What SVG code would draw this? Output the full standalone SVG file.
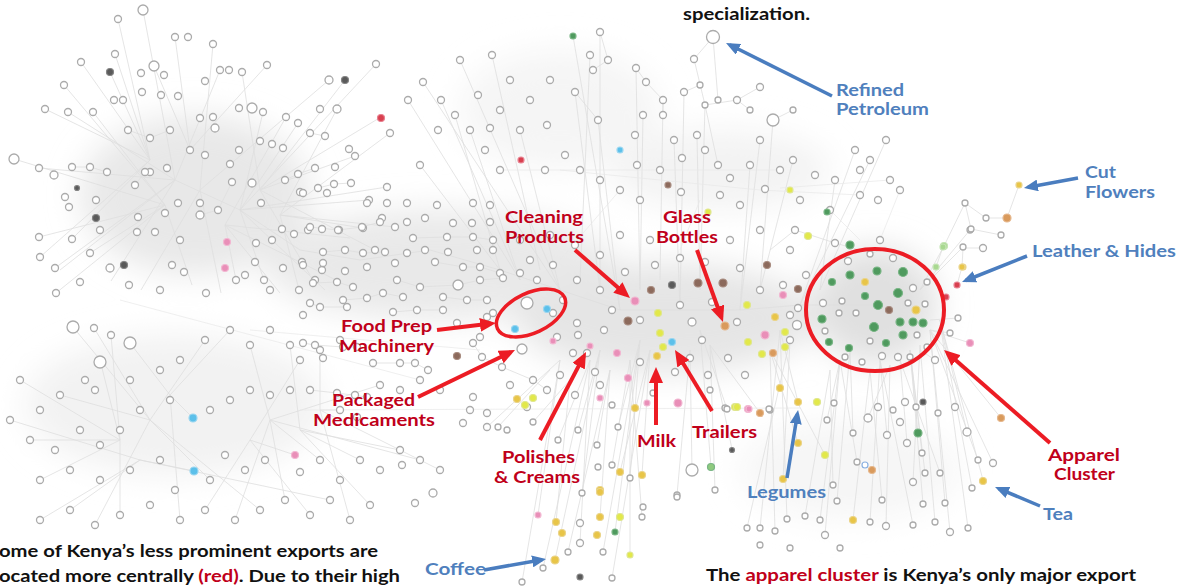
<svg xmlns="http://www.w3.org/2000/svg" width="1184" height="588" viewBox="0 0 1184 588">
<defs>
<style>
.n{fill:#fff;stroke:#ababab;stroke-width:1.3}
.gr{fill:#4f9a5e;stroke:#79b585;stroke-width:1.2}
.lg{fill:#a8d890;stroke:#c4e4b4;stroke-width:1.2}
.ye{fill:#e2e84a;stroke:#dfe690;stroke-width:1.2}
.go{fill:#e8c548;stroke:#ead48a;stroke-width:1.2}
.or{fill:#d99a5c;stroke:#e6b88e;stroke-width:1.2}
.pk{fill:#e98fb8;stroke:#f2b8d2;stroke-width:1.2}
.br{fill:#8c6a5c;stroke:#a88c80;stroke-width:1.2}
.dk{fill:#5a5a5a;stroke:#858585;stroke-width:1.2}
.bl{fill:#5cc0ea;stroke:#9ad6f0;stroke-width:1.2}
.rd{fill:#d8404f;stroke:#e88090;stroke-width:1.2}
.e{fill:none;stroke:#dedede;stroke-width:0.8}
.e2{fill:none;stroke:#e8e8e8;stroke-width:0.7}
.ra{stroke:#ec1c24;stroke-width:4;fill:none}
.ba{stroke:#4a7dbf;stroke-width:3.5;fill:none}
.rl{font-family:Lato,"Open Sans",sans-serif;font-weight:700;font-size:17px;fill:#c0001a}
.bll{font-family:Lato,"Open Sans",sans-serif;font-weight:700;font-size:17px;fill:#4f80bd}
.bt{font-family:Lato,"Open Sans",sans-serif;font-weight:700;font-size:17px;fill:#111}
</style>
<filter id="blur" x="-50%" y="-50%" width="200%" height="200%"><feGaussianBlur stdDeviation="16"/></filter>
<marker id="rh" markerUnits="userSpaceOnUse" markerWidth="16" markerHeight="14" refX="11" refY="7" orient="auto"><path d="M0,0L16,7L0,14Z" fill="#ec1c24"/></marker>
<marker id="bh" markerUnits="userSpaceOnUse" markerWidth="14" markerHeight="12" refX="10" refY="6" orient="auto"><path d="M0,0L14,6L0,12Z" fill="#4a7dbf"/></marker>
</defs>
<rect width="1184" height="588" fill="#fff"/>
<g id="haze" filter="url(#blur)">
<ellipse cx="195" cy="195" rx="115" ry="80" fill="#e8e8e8"/>
<ellipse cx="440" cy="265" rx="175" ry="55" fill="#e9e9e9"/>
<ellipse cx="665" cy="318" rx="150" ry="55" fill="#e5e5e5"/>
<ellipse cx="875" cy="305" rx="62" ry="58" fill="#e0e0e0"/>
<ellipse cx="175" cy="405" rx="150" ry="70" fill="#f2f2f2"/>
<ellipse cx="720" cy="170" rx="110" ry="40" fill="#f3f3f3"/>
<ellipse cx="560" cy="110" rx="100" ry="60" fill="#f5f5f5"/>
<ellipse cx="850" cy="470" rx="110" ry="50" fill="#f6f6f6"/>
</g>
<g id="connectors">
<path class="e" d="M175 180L143 10M150 160L118 19M190 150L175 37M200 190L213 44M150 160L81 62M165 205L64 85M150 160L45 109M165 205L14 159M175 180L39 168M165 205L39 237M175 180L55 268M165 205L56 293M150 160L40 257M190 150L267 65M200 190L329 80M150 160L115 54M190 150L154 66M175 180L220 70M150 160L110 72M165 205L93 112M175 180L68 112M150 160L72 239M165 205L90 253M175 180L111 281M200 190L141 290M165 205L192 285M200 190L221 293M128 130L150 138L170 130M72 167L90 167L107 172M135 185L145 172M200 215L218 210L232 182"/>
<path class="e" d="M240 210L376 64M260 190L381 117M280 215L390 133M240 210L387 187M280 215L395 227M260 190L375 250M225 225L336 280M240 210L325 290M225 225L280 293M280 215L299 290M260 190L345 80M240 210L298 123M225 225L286 117M260 190L242 72M240 210L263 112M280 215L337 109M260 190L355 156M240 210L369 200M280 215L363 228M225 225L350 238M260 190L310 275M240 210L264 280M225 225L236 280M310 133L325 136M285 180L298 174L315 168M318 188L334 184L351 183"/>
<path class="e" d="M150 420L73 327M120 440L20 380M140 460L10 420M120 440L40 480M140 460L40 520M150 420L95 525M170 395L180 520M150 420L260 510M140 460L330 500M170 395L130 343M120 440L100 360M150 420L60 395M170 395L193 418M140 460L194 471M150 420L210 480M120 440L120 515M140 460L70 510M170 395L230 330M150 420L205 340M120 440L111 335M150 420L94 328M120 440L30 440"/>
<path class="e" d="M270 420L380 385M300 430L400 450M250 440L300 360M270 420L250 345M320 410L340 410M300 430L360 460M250 440L310 515M270 420L285 500M320 410L350 520M300 430L370 505M270 420L420 460M320 410L440 470M250 440L295 455M270 420L320 460M300 430L290 345M320 410L320 350M250 440L205 510M270 420L235 520"/>
<path class="e" d="M60 270L175 180L240 210L300 250L360 260L430 250L500 270L560 290L620 310L680 310L740 310L800 305L875 305M310 227L338 230L362 227L380 222M323 252L345 250L363 253L385 252M413 238L447 237L473 237L493 240M435 262L463 267L480 267L500 273M313 283L337 282L353 287M397 280L420 287L458 285L480 280L503 278M343 300L367 298L383 293L403 297M443 297L467 300L487 300M310 303L320 307L347 307M393 312L417 310L443 310M303 343L315 345L343 347L357 347M373 363L400 363L415 363L428 370M473 343L482 357L502 367L533 380L547 390M310 390L337 393L367 397"/>
<path class="e" d="M620 310L573 36M600 290L600 32M640 290L636 68M580 280L590 55M600 290L575 92M620 310L598 120M660 280L663 100M640 290L643 115M560 290L520 130M540 270L492 55M560 290L460 60M520 280L441 100M560 290L423 82M520 280L408 100M500 270L455 115M520 280L470 130M500 270L420 165M680 310L684 92M700 290L705 105M680 310L674 140M700 290L697 135M740 310L760 140M760 290L773 120M740 310L750 165M760 290L793 160M800 305L855 150M820 290L886 140M800 305L870 160M820 290L835 180"/>
<path class="e" d="M713 37L694 59L705 105L737 100L760 87M705 105L718 165M713 37L718 100M737 100L750 110M600 32L608 60L593 70M636 68L646 82L663 100L663 115M575 92L598 120M684 92L700 85M773 120L793 110"/>
<path class="e" d="M700 330L711 467M690 350L692 470M710 345L715 490M690 350L677 495M710 345L732 449M700 330L727 409M710 345L760 413M640 340L618 427M630 360L612 465M650 350L620 472M640 340L630 478M650 350L642 475M600 350L582 493M610 370L600 517M590 360L580 543M600 350L555 560M590 360L543 568M610 370L568 552M600 350L578 430M590 360L558 440M610 370L597 445M560 360L538 515M570 380L556 522M560 360L522 582M570 380L533 422M550 370L498 427M560 360L487 427M640 340L603 552M630 360L630 555M650 350L612 578M640 340L615 532M630 360L642 517"/>
<path class="e" d="M780 330L798 402M770 350L798 443M790 340L783 479M780 330L787 519M770 350L775 531M790 340L747 528M780 330L760 528M770 350L825 455M840 360L827 420M850 350L853 433M840 360L857 462M830 370L833 485M850 350L837 501M840 360L825 535M830 370L805 516M840 360L820 520M880 360L887 435M870 370L882 500M880 360L870 522M890 365L886 526M880 360L913 525M870 370L853 520M890 365L868 418M910 350L918 433M900 360L907 443M910 350L922 453M920 345L913 482M910 350L925 473M900 360L940 473M910 350L923 504M920 345L935 522M930 330L1001 418M940 320L967 432M930 330L978 460M940 320L983 480M930 330L993 463M940 320L972 488M930 330L945 503M940 320L968 528M930 330L950 532"/>
<path class="e" d="M920 290L944 246L965 203L986 218L1007 218L1019 185M965 203L971 229L1001 235M963 248L983 248M957 285L962 267L963 248M936 267L943 247M920 290L970 230M920 290L963 247M930 320L958 318M930 330L950 333M930 330L970 343M920 350L935 360M860 250L835 243L795 230M880 250L870 254M770 250L795 230"/>
<path class="e2" d="M300 410L800 408M250 330L480 350M120 300L420 380M560 170L760 190M500 170L780 170M760 190L860 195M780 188L890 180M830 210L860 240M620 190L560 260M700 200L680 250M900 190L880 240"/>
</g>
<g id="nodes-left">
<circle class="n" cx="143" cy="10" r="5"/><circle class="n" cx="118" cy="19" r="3.5"/><circle class="n" cx="175" cy="37" r="3.5"/><circle class="n" cx="188" cy="37" r="3.5"/><circle class="n" cx="213" cy="44" r="3.5"/><circle class="n" cx="81" cy="62" r="3.5"/><circle class="n" cx="115" cy="54" r="3.5"/><circle class="dk" cx="110" cy="72" r="3.5"/><circle class="n" cx="154" cy="66" r="5"/><circle class="n" cx="141" cy="73" r="3.5"/><circle class="n" cx="164" cy="75" r="3.5"/><circle class="n" cx="220" cy="70" r="3.5"/><circle class="n" cx="229" cy="70" r="3.5"/><circle class="n" cx="242" cy="72" r="3.5"/><circle class="n" cx="267" cy="65" r="3.5"/><circle class="n" cx="329" cy="80" r="4"/><circle class="dk" cx="345" cy="80" r="3.5"/><circle class="n" cx="64" cy="85" r="3.5"/><circle class="n" cx="68" cy="112" r="3.5"/><circle class="n" cx="45" cy="109" r="3.5"/><circle class="n" cx="93" cy="112" r="3.5"/><circle class="n" cx="114" cy="100" r="3.5"/><circle class="n" cx="142" cy="92" r="3.5"/><circle class="n" cx="161" cy="95" r="3.5"/><circle class="n" cx="123" cy="100" r="3.5"/><circle class="n" cx="178" cy="96" r="3.5"/><circle class="n" cx="205" cy="81" r="3.5"/><circle class="n" cx="213" cy="117" r="3.5"/><circle class="n" cx="239" cy="108" r="3.5"/><circle class="n" cx="252" cy="108" r="5"/><circle class="n" cx="263" cy="112" r="3.5"/><circle class="n" cx="286" cy="117" r="3.5"/><circle class="n" cx="298" cy="123" r="3.5"/><circle class="n" cx="320" cy="109" r="3.5"/><circle class="n" cx="337" cy="109" r="4"/><circle class="n" cx="376" cy="64" r="3.5"/><circle class="rd" cx="381" cy="118" r="3.5"/><circle class="n" cx="390" cy="133" r="3.5"/><circle class="n" cx="128" cy="130" r="3.5"/><circle class="n" cx="150" cy="138" r="3.5"/><circle class="n" cx="170" cy="130" r="3.5"/><circle class="n" cx="200" cy="118" r="3.5"/><circle class="n" cx="215" cy="128" r="4"/><circle class="n" cx="239" cy="150" r="3.5"/><circle class="n" cx="260" cy="141" r="3.5"/><circle class="n" cx="272" cy="144" r="3.5"/><circle class="n" cx="283" cy="148" r="3.5"/><circle class="n" cx="310" cy="133" r="3.5"/><circle class="n" cx="325" cy="136" r="3.5"/><circle class="n" cx="349" cy="149" r="3.5"/><circle class="n" cx="355" cy="156" r="3.5"/><circle class="n" cx="14" cy="159" r="5"/><circle class="n" cx="39" cy="168" r="3.5"/><circle class="n" cx="54" cy="175" r="4"/><circle class="n" cx="72" cy="167" r="3.5"/><circle class="n" cx="90" cy="167" r="3.5"/><circle class="n" cx="107" cy="172" r="3.5"/><circle class="n" cx="150" cy="172" r="3.5"/><circle class="n" cx="167" cy="168" r="3.5"/><circle class="n" cx="205" cy="155" r="3.5"/><circle class="n" cx="190" cy="150" r="3.5"/><circle class="n" cx="230" cy="164" r="3.5"/><circle class="n" cx="252" cy="183" r="4"/><circle class="n" cx="285" cy="180" r="3.5"/><circle class="n" cx="298" cy="174" r="3.5"/><circle class="n" cx="315" cy="168" r="3.5"/><circle class="n" cx="335" cy="167" r="3.5"/><circle class="n" cx="387" cy="187" r="3.5"/><circle class="n" cx="65" cy="197" r="3.5"/><circle class="dk" cx="77" cy="188" r="2.5"/><circle class="n" cx="96" cy="200" r="3.5"/><circle class="n" cx="135" cy="185" r="3.5"/><circle class="n" cx="145" cy="172" r="3.5"/><circle class="n" cx="178" cy="203" r="3.5"/><circle class="n" cx="200" cy="203" r="3.5"/><circle class="n" cx="218" cy="210" r="3.5"/><circle class="n" cx="232" cy="182" r="3.5"/><circle class="n" cx="261" cy="203" r="3.5"/><circle class="n" cx="300" cy="192" r="3.5"/><circle class="n" cx="318" cy="188" r="3.5"/><circle class="n" cx="334" cy="184" r="3.5"/><circle class="n" cx="351" cy="183" r="3.5"/><circle class="n" cx="369" cy="200" r="3.5"/><circle class="n" cx="69" cy="207" r="3.5"/><circle class="dk" cx="96" cy="218" r="3.5"/><circle class="n" cx="138" cy="217" r="3.5"/><circle class="n" cx="165" cy="213" r="3.5"/><circle class="n" cx="200" cy="215" r="4"/><circle class="n" cx="100" cy="230" r="3.5"/><circle class="n" cx="137" cy="232" r="3.5"/><circle class="n" cx="155" cy="232" r="3.5"/><circle class="n" cx="180" cy="240" r="3.5"/><circle class="pk" cx="227" cy="242" r="3.5"/><circle class="n" cx="256" cy="243" r="3.5"/><circle class="n" cx="272" cy="240" r="3.5"/><circle class="n" cx="282" cy="229" r="3.5"/><circle class="n" cx="294" cy="234" r="3.5"/><circle class="n" cx="308" cy="230" r="3.5"/><circle class="n" cx="322" cy="229" r="3.5"/><circle class="n" cx="339" cy="230" r="3.5"/><circle class="n" cx="363" cy="228" r="3.5"/><circle class="n" cx="382" cy="218" r="3.5"/><circle class="n" cx="395" cy="227" r="3.5"/><circle class="n" cx="39" cy="237" r="3.5"/><circle class="n" cx="72" cy="239" r="3.5"/><circle class="n" cx="55" cy="268" r="3.5"/><circle class="n" cx="90" cy="253" r="3.5"/><circle class="n" cx="110" cy="268" r="4"/><circle class="dk" cx="124" cy="265" r="3.5"/><circle class="n" cx="172" cy="265" r="3.5"/><circle class="n" cx="184" cy="272" r="3.5"/><circle class="pk" cx="225" cy="268" r="3.5"/><circle class="n" cx="245" cy="275" r="3.5"/><circle class="n" cx="255" cy="262" r="3.5"/><circle class="n" cx="264" cy="280" r="3.5"/><circle class="n" cx="283" cy="268" r="3.5"/><circle class="n" cx="302" cy="262" r="3.5"/><circle class="n" cx="322" cy="270" r="3.5"/><circle class="n" cx="345" cy="271" r="3.5"/><circle class="n" cx="375" cy="250" r="3.5"/><circle class="n" cx="40" cy="257" r="3.5"/><circle class="n" cx="56" cy="293" r="3.5"/><circle class="n" cx="80" cy="282" r="3.5"/><circle class="n" cx="129" cy="285" r="3.5"/><circle class="n" cx="160" cy="290" r="3.5"/><circle class="n" cx="206" cy="293" r="3.5"/><circle class="n" cx="236" cy="280" r="3.5"/><circle class="n" cx="270" cy="290" r="3.5"/><circle class="n" cx="299" cy="290" r="3.5"/><circle class="n" cx="315" cy="280" r="3.5"/>
</g>
<g id="nodes-lower-left">
<circle class="n" cx="73" cy="327" r="6"/><circle class="n" cx="94" cy="328" r="3.5"/><circle class="n" cx="130" cy="343" r="6"/><circle class="n" cx="111" cy="335" r="3.5"/><circle class="n" cx="100" cy="362" r="6"/><circle class="n" cx="85" cy="380" r="3.5"/><circle class="n" cx="60" cy="395" r="3.5"/><circle class="n" cx="40" cy="410" r="3.5"/><circle class="n" cx="95" cy="390" r="3.5"/><circle class="n" cx="130" cy="380" r="3.5"/><circle class="n" cx="160" cy="370" r="3.5"/><circle class="n" cx="180" cy="360" r="3.5"/><circle class="n" cx="205" cy="340" r="3.5"/><circle class="n" cx="230" cy="330" r="3.5"/><circle class="n" cx="250" cy="345" r="3.5"/><circle class="n" cx="270" cy="330" r="3.5"/><circle class="n" cx="290" cy="345" r="3.5"/><circle class="n" cx="300" cy="360" r="3.5"/><circle class="n" cx="320" cy="350" r="3.5"/><circle class="n" cx="340" cy="340" r="3.5"/><circle class="n" cx="20" cy="380" r="3.5"/><circle class="n" cx="10" cy="420" r="3.5"/><circle class="n" cx="30" cy="440" r="3.5"/><circle class="n" cx="55" cy="450" r="3.5"/><circle class="n" cx="80" cy="430" r="3.5"/><circle class="n" cx="100" cy="445" r="3.5"/><circle class="n" cx="120" cy="430" r="3.5"/><circle class="n" cx="140" cy="410" r="3.5"/><circle class="n" cx="170" cy="400" r="3.5"/><circle class="bl" cx="193" cy="418" r="4"/><circle class="n" cx="210" cy="410" r="3.5"/><circle class="n" cx="230" cy="400" r="3.5"/><circle class="n" cx="250" cy="390" r="3.5"/><circle class="n" cx="270" cy="395" r="3.5"/><circle class="n" cx="290" cy="390" r="3.5"/><circle class="n" cx="340" cy="410" r="3.5"/><circle class="n" cx="355" cy="395" r="3.5"/><circle class="n" cx="380" cy="385" r="3.5"/><circle class="n" cx="400" cy="390" r="3.5"/><circle class="n" cx="420" cy="380" r="3.5"/><circle class="n" cx="440" cy="390" r="3.5"/><circle class="n" cx="40" cy="480" r="3.5"/><circle class="n" cx="70" cy="470" r="3.5"/><circle class="n" cx="100" cy="480" r="3.5"/><circle class="n" cx="130" cy="470" r="3.5"/><circle class="n" cx="160" cy="460" r="3.5"/><circle class="bl" cx="194" cy="471" r="4"/><circle class="n" cx="175" cy="490" r="3.5"/><circle class="n" cx="210" cy="480" r="3.5"/><circle class="n" cx="225" cy="455" r="3.5"/><circle class="n" cx="245" cy="470" r="3.5"/><circle class="n" cx="265" cy="460" r="3.5"/><circle class="pk" cx="295" cy="455" r="3.5"/><circle class="n" cx="300" cy="472" r="3.5"/><circle class="n" cx="320" cy="460" r="3.5"/><circle class="n" cx="340" cy="480" r="3.5"/><circle class="n" cx="360" cy="460" r="3.5"/><circle class="n" cx="380" cy="470" r="3.5"/><circle class="n" cx="400" cy="450" r="3.5"/><circle class="n" cx="420" cy="460" r="3.5"/><circle class="n" cx="440" cy="470" r="3.5"/><circle class="n" cx="40" cy="520" r="3.5"/><circle class="n" cx="70" cy="510" r="3.5"/><circle class="n" cx="95" cy="525" r="3.5"/><circle class="n" cx="120" cy="515" r="3.5"/><circle class="n" cx="150" cy="505" r="3.5"/><circle class="n" cx="180" cy="520" r="3.5"/><circle class="n" cx="205" cy="510" r="3.5"/><circle class="n" cx="235" cy="520" r="3.5"/><circle class="n" cx="260" cy="510" r="3.5"/><circle class="n" cx="285" cy="500" r="3.5"/><circle class="n" cx="310" cy="515" r="3.5"/><circle class="n" cx="330" cy="500" r="3.5"/><circle class="n" cx="350" cy="520" r="3.5"/><circle class="n" cx="370" cy="505" r="3.5"/><circle class="n" cx="433" cy="493" r="4"/><circle class="n" cx="415" cy="503" r="3.5"/><circle class="n" cx="402" cy="465" r="3.5"/>
</g>
<g id="nodes-center">
<circle class="n" cx="303" cy="193" r="3.5"/><circle class="n" cx="327" cy="193" r="3.5"/><circle class="n" cx="367" cy="203" r="3.5"/><circle class="n" cx="387" cy="203" r="3.5"/><circle class="n" cx="407" cy="203" r="3.5"/><circle class="n" cx="437" cy="205" r="3.5"/><circle class="n" cx="473" cy="203" r="3.5"/><circle class="n" cx="490" cy="205" r="3.5"/><circle class="n" cx="310" cy="227" r="3.5"/><circle class="n" cx="338" cy="230" r="3.5"/><circle class="n" cx="362" cy="227" r="3.5"/><circle class="n" cx="380" cy="222" r="3.5"/><circle class="n" cx="407" cy="222" r="3.5"/><circle class="n" cx="425" cy="218" r="3.5"/><circle class="n" cx="453" cy="223" r="3.5"/><circle class="n" cx="472" cy="223" r="3.5"/><circle class="n" cx="490" cy="222" r="3.5"/><circle class="n" cx="413" cy="238" r="3.5"/><circle class="n" cx="447" cy="237" r="3.5"/><circle class="n" cx="473" cy="237" r="3.5"/><circle class="n" cx="493" cy="240" r="3.5"/><circle class="n" cx="323" cy="252" r="3.5"/><circle class="n" cx="345" cy="250" r="3.5"/><circle class="n" cx="363" cy="253" r="3.5"/><circle class="n" cx="385" cy="252" r="3.5"/><circle class="n" cx="407" cy="253" r="3.5"/><circle class="n" cx="425" cy="250" r="3.5"/><circle class="n" cx="448" cy="252" r="3.5"/><circle class="n" cx="477" cy="250" r="3.5"/><circle class="n" cx="493" cy="250" r="3.5"/><circle class="n" cx="303" cy="265" r="3.5"/><circle class="n" cx="323" cy="263" r="3.5"/><circle class="n" cx="367" cy="267" r="3.5"/><circle class="n" cx="395" cy="263" r="3.5"/><circle class="n" cx="435" cy="262" r="3.5"/><circle class="n" cx="463" cy="267" r="3.5"/><circle class="n" cx="480" cy="267" r="3.5"/><circle class="n" cx="500" cy="273" r="3.5"/><circle class="n" cx="530" cy="260" r="3.5"/><circle class="n" cx="553" cy="265" r="3.5"/><circle class="n" cx="577" cy="280" r="3.5"/><circle class="n" cx="313" cy="283" r="3.5"/><circle class="n" cx="337" cy="282" r="3.5"/><circle class="n" cx="353" cy="287" r="3.5"/><circle class="n" cx="397" cy="280" r="3.5"/><circle class="n" cx="420" cy="287" r="3.5"/><circle class="n" cx="458" cy="285" r="5"/><circle class="n" cx="480" cy="280" r="3.5"/><circle class="n" cx="503" cy="278" r="3.5"/><circle class="n" cx="520" cy="273" r="3.5"/><circle class="n" cx="537" cy="280" r="3.5"/><circle class="n" cx="310" cy="303" r="3.5"/><circle class="n" cx="343" cy="300" r="3.5"/><circle class="n" cx="367" cy="298" r="3.5"/><circle class="n" cx="383" cy="293" r="3.5"/><circle class="n" cx="403" cy="297" r="3.5"/><circle class="n" cx="443" cy="297" r="3.5"/><circle class="n" cx="467" cy="300" r="3.5"/><circle class="n" cx="487" cy="300" r="3.5"/><circle class="n" cx="493" cy="313" r="3.5"/><circle class="n" cx="303" cy="315" r="3.5"/><circle class="n" cx="320" cy="307" r="3.5"/><circle class="n" cx="347" cy="307" r="3.5"/><circle class="n" cx="393" cy="312" r="3.5"/><circle class="n" cx="417" cy="310" r="3.5"/><circle class="n" cx="443" cy="310" r="3.5"/><circle class="n" cx="457" cy="323" r="3.5"/><circle class="n" cx="480" cy="337" r="3.5"/><circle class="n" cx="487" cy="317" r="3.5"/><circle class="n" cx="563" cy="300" r="3.5"/><circle class="n" cx="553" cy="313" r="3.5"/><circle class="n" cx="577" cy="323" r="3.5"/><circle class="n" cx="557" cy="337" r="3.5"/><circle class="pk" cx="553" cy="341" r="3"/><circle class="n" cx="578" cy="335" r="3.5"/><circle class="pk" cx="590" cy="346" r="3"/><circle class="n" cx="573" cy="353" r="3.5"/><circle class="n" cx="587" cy="353" r="3.5"/><circle class="n" cx="595" cy="372" r="3.5"/><circle class="n" cx="303" cy="343" r="3.5"/><circle class="n" cx="315" cy="345" r="3.5"/><circle class="n" cx="343" cy="347" r="3.5"/><circle class="n" cx="357" cy="347" r="3.5"/><circle class="n" cx="323" cy="358" r="3.5"/><circle class="n" cx="373" cy="363" r="3.5"/><circle class="n" cx="400" cy="363" r="3.5"/><circle class="n" cx="415" cy="363" r="3.5"/><circle class="n" cx="428" cy="370" r="3.5"/><circle class="br" cx="457" cy="356" r="3.5"/><circle class="n" cx="473" cy="343" r="3.5"/><circle class="n" cx="482" cy="357" r="3.5"/><circle class="n" cx="502" cy="367" r="3.5"/><circle class="n" cx="533" cy="380" r="3.5"/><circle class="n" cx="547" cy="390" r="3.5"/><circle class="n" cx="510" cy="385" r="3.5"/><circle class="n" cx="527" cy="407" r="3.5"/><circle class="go" cx="517" cy="399" r="3.5"/><circle class="ye" cx="525" cy="405" r="3.5"/><circle class="ye" cx="533" cy="398" r="3.5"/><circle class="n" cx="473" cy="397" r="3.5"/><circle class="n" cx="470" cy="410" r="3.5"/><circle class="n" cx="487" cy="413" r="3.5"/><circle class="n" cx="463" cy="423" r="3.5"/><circle class="n" cx="310" cy="390" r="3.5"/><circle class="n" cx="337" cy="393" r="3.5"/><circle class="n" cx="367" cy="397" r="3.5"/><circle class="n" cx="357" cy="417" r="3.5"/>
<circle class="n" cx="527" cy="303" r="6"/><circle class="bl" cx="547" cy="309" r="3.5"/><circle class="bl" cx="515" cy="329" r="3.5"/><circle class="n" cx="522" cy="349" r="5"/>
<circle class="br" cx="651" cy="290" r="3.5"/><circle class="dk" cx="672" cy="285" r="3.5"/><circle class="br" cx="698" cy="283" r="4"/><circle class="br" cx="723" cy="283" r="4"/><circle class="pk" cx="635" cy="301" r="4"/><circle class="br" cx="628" cy="321" r="4"/><circle class="ye" cx="658" cy="313" r="3.5"/><circle class="ye" cx="660" cy="333" r="3.5"/><circle class="bl" cx="672" cy="342" r="3.5"/><circle class="go" cx="657" cy="356" r="3.5"/><circle class="ye" cx="663" cy="347" r="3.5"/><circle class="or" cx="725" cy="326" r="4"/><circle class="ye" cx="747" cy="305" r="3.5"/><circle class="pk" cx="765" cy="335" r="4"/><circle class="go" cx="775" cy="317" r="3.5"/><circle class="or" cx="773" cy="353" r="3.5"/><circle class="ye" cx="748" cy="342" r="3.5"/><circle class="pk" cx="617" cy="353" r="3.5"/><circle class="pk" cx="628" cy="378" r="3.5"/><circle class="ye" cx="762" cy="354" r="3.5"/>
<circle class="n" cx="600" cy="290" r="3.5"/><circle class="n" cx="612" cy="310" r="3.5"/><circle class="n" cx="604" cy="330" r="3.5"/><circle class="n" cx="640" cy="320" r="3.5"/><circle class="n" cx="680" cy="305" r="3.5"/><circle class="n" cx="692" cy="322" r="4"/><circle class="n" cx="702" cy="340" r="3.5"/><circle class="n" cx="690" cy="358" r="3.5"/><circle class="n" cx="712" cy="302" r="3.5"/><circle class="n" cx="737" cy="322" r="3.5"/><circle class="n" cx="728" cy="358" r="3.5"/><circle class="n" cx="640" cy="362" r="3.5"/><circle class="n" cx="675" cy="372" r="3.5"/><circle class="n" cx="708" cy="375" r="3.5"/><circle class="n" cx="745" cy="375" r="3.5"/><circle class="n" cx="790" cy="340" r="3.5"/><circle class="n" cx="790" cy="315" r="3.5"/><circle class="n" cx="783" cy="285" r="3.5"/><circle class="n" cx="760" cy="290" r="3.5"/><circle class="n" cx="740" cy="268" r="3.5"/><circle class="br" cx="767" cy="265" r="3.5"/><circle class="n" cx="705" cy="262" r="3.5"/><circle class="n" cx="680" cy="258" r="3.5"/><circle class="n" cx="655" cy="265" r="3.5"/><circle class="n" cx="625" cy="272" r="3.5"/><circle class="n" cx="600" cy="255" r="3.5"/><circle class="n" cx="575" cy="245" r="3.5"/><circle class="n" cx="550" cy="235" r="3.5"/><circle class="n" cx="520" cy="240" r="3.5"/><circle class="n" cx="620" cy="235" r="3.5"/><circle class="n" cx="650" cy="240" r="3.5"/><circle class="n" cx="730" cy="240" r="3.5"/><circle class="n" cx="760" cy="230" r="3.5"/><circle class="n" cx="790" cy="250" r="3.5"/><circle class="n" cx="806" cy="275" r="3.5"/><circle class="ye" cx="808" cy="236" r="3.5"/><circle class="n" cx="600" cy="385" r="3.5"/><circle class="n" cx="575" cy="395" r="3.5"/><circle class="n" cx="560" cy="375" r="3.5"/>
</g>
<g id="nodes-top">
<circle class="gr" cx="573" cy="36" r="3"/><circle class="n" cx="600" cy="32" r="3.5"/><circle class="n" cx="590" cy="55" r="3.5"/><circle class="n" cx="608" cy="60" r="3.5"/><circle class="n" cx="575" cy="92" r="3.5"/><circle class="n" cx="598" cy="120" r="3.5"/><circle class="n" cx="593" cy="70" r="3.5"/><circle class="n" cx="636" cy="68" r="3.5"/><circle class="n" cx="646" cy="82" r="3.5"/><circle class="n" cx="663" cy="100" r="3.5"/><circle class="n" cx="663" cy="115" r="3.5"/><circle class="n" cx="684" cy="92" r="3.5"/><circle class="n" cx="700" cy="85" r="3"/><circle class="n" cx="705" cy="105" r="3"/><circle class="n" cx="737" cy="100" r="3.5"/><circle class="n" cx="718" cy="100" r="3"/><circle class="n" cx="750" cy="110" r="3"/><circle class="n" cx="760" cy="87" r="3.5"/><circle class="n" cx="773" cy="120" r="6"/><circle class="n" cx="793" cy="110" r="3"/><circle class="n" cx="713" cy="37" r="6.5"/><circle class="n" cx="694" cy="59" r="3.5"/><circle class="n" cx="643" cy="115" r="3.5"/><circle class="n" cx="635" cy="135" r="3.5"/><circle class="bl" cx="620" cy="150" r="3"/><circle class="n" cx="637" cy="165" r="3.5"/><circle class="n" cx="660" cy="170" r="3.5"/><circle class="n" cx="674" cy="140" r="3.5"/><circle class="n" cx="682" cy="158" r="3.5"/><circle class="n" cx="697" cy="135" r="3.5"/><circle class="n" cx="705" cy="150" r="3.5"/><circle class="n" cx="718" cy="165" r="3.5"/><circle class="n" cx="730" cy="178" r="3.5"/><circle class="n" cx="750" cy="165" r="3.5"/><circle class="n" cx="760" cy="140" r="3.5"/><circle class="n" cx="780" cy="170" r="3.5"/><circle class="n" cx="793" cy="160" r="3.5"/><circle class="n" cx="815" cy="175" r="3.5"/><circle class="n" cx="835" cy="180" r="3.5"/><circle class="n" cx="860" cy="170" r="3.5"/><circle class="n" cx="870" cy="160" r="3.5"/><circle class="n" cx="886" cy="140" r="3.5"/><circle class="n" cx="890" cy="180" r="3.5"/><circle class="n" cx="855" cy="150" r="3.5"/><circle class="n" cx="860" cy="195" r="3.5"/><circle class="n" cx="878" cy="200" r="3.5"/><circle class="n" cx="800" cy="200" r="3.5"/><circle class="ye" cx="790" cy="190" r="3"/><circle class="n" cx="765" cy="189" r="3.5"/><circle class="n" cx="740" cy="205" r="3.5"/><circle class="n" cx="720" cy="195" r="3.5"/><circle class="ye" cx="708" cy="212" r="3"/><circle class="br" cx="668" cy="185" r="3"/><circle class="n" cx="681" cy="192" r="3.5"/><circle class="n" cx="640" cy="200" r="3.5"/><circle class="n" cx="620" cy="190" r="3.5"/><circle class="n" cx="600" cy="180" r="3.5"/><circle class="n" cx="580" cy="170" r="3.5"/><circle class="n" cx="565" cy="155" r="3.5"/><circle class="n" cx="545" cy="170" r="3.5"/><circle class="rd" cx="521" cy="160" r="3"/><circle class="n" cx="500" cy="170" r="3.5"/><circle class="n" cx="485" cy="150" r="3.5"/><circle class="n" cx="470" cy="130" r="3.5"/><circle class="n" cx="455" cy="115" r="3.5"/><circle class="n" cx="438" cy="130" r="3.5"/><circle class="n" cx="420" cy="165" r="3.5"/><circle class="n" cx="408" cy="100" r="3.5"/><circle class="n" cx="423" cy="82" r="3.5"/><circle class="n" cx="441" cy="100" r="3.5"/><circle class="n" cx="460" cy="60" r="3.5"/><circle class="n" cx="492" cy="55" r="3.5"/><circle class="n" cx="510" cy="80" r="3.5"/><circle class="n" cx="530" cy="100" r="3.5"/><circle class="n" cx="550" cy="80" r="3.5"/><circle class="n" cx="547" cy="125" r="3.5"/><circle class="n" cx="520" cy="130" r="3.5"/><circle class="n" cx="500" cy="110" r="3.5"/><circle class="n" cx="478" cy="95" r="3.5"/><circle class="n" cx="490" cy="128" r="3.5"/><circle class="n" cx="830" cy="210" r="3.5"/><circle class="gr" cx="827" cy="212" r="3"/><circle class="n" cx="900" cy="190" r="3.5"/><circle class="n" cx="880" cy="240" r="3.5"/>
</g>
<g id="nodes-apparel">
<circle class="gr" cx="850" cy="245" r="4"/><circle class="gr" cx="832" cy="282" r="3.5"/><circle class="gr" cx="850" cy="275" r="4"/><circle class="gr" cx="877" cy="271" r="4"/><circle class="gr" cx="903" cy="272" r="4.5"/><circle class="go" cx="865" cy="282" r="3.5"/><circle class="gr" cx="865" cy="296" r="3.5"/><circle class="gr" cx="878" cy="305" r="4.5"/><circle class="gr" cx="898" cy="293" r="4.5"/><circle class="br" cx="889" cy="310" r="3.5"/><circle class="go" cx="916" cy="310" r="4"/><circle class="gr" cx="822" cy="319" r="4"/><circle class="gr" cx="874" cy="327" r="4.5"/><circle class="gr" cx="900" cy="322" r="4"/><circle class="gr" cx="913" cy="322" r="4"/><circle class="gr" cx="923" cy="323" r="4"/><circle class="gr" cx="903" cy="335" r="4"/><circle class="gr" cx="829" cy="342" r="3.5"/><circle class="gr" cx="849" cy="348" r="3.5"/><circle class="gr" cx="886" cy="343" r="3.5"/><circle class="br" cx="798" cy="289" r="3.5"/><circle class="pk" cx="783" cy="295" r="3.5"/><circle class="lg" cx="944" cy="246" r="3.5"/><circle class="lg" cx="936" cy="267" r="3"/><circle class="go" cx="963" cy="267" r="3"/><circle class="rd" cx="957" cy="285" r="3"/><circle class="rd" cx="946" cy="297" r="3"/><circle class="pk" cx="970" cy="343" r="3.5"/>
<circle class="n" cx="848" cy="261" r="3.5"/><circle class="n" cx="870" cy="254" r="3"/><circle class="n" cx="893" cy="258" r="3.5"/><circle class="n" cx="842" cy="301" r="3"/><circle class="n" cx="856" cy="313" r="3"/><circle class="n" cx="839" cy="313" r="3"/><circle class="n" cx="823" cy="303" r="3.5"/><circle class="n" cx="913" cy="288" r="3.5"/><circle class="n" cx="908" cy="303" r="3"/><circle class="n" cx="925" cy="304" r="3"/><circle class="n" cx="927" cy="282" r="3"/><circle class="n" cx="825" cy="331" r="3"/><circle class="n" cx="870" cy="341" r="3"/><circle class="n" cx="917" cy="335" r="3"/><circle class="n" cx="845" cy="357" r="3"/><circle class="n" cx="862" cy="362" r="3"/><circle class="n" cx="882" cy="356" r="3.5"/><circle class="n" cx="898" cy="357" r="3.5"/><circle class="n" cx="910" cy="357" r="3"/><circle class="n" cx="927" cy="347" r="3"/><circle class="n" cx="835" cy="243" r="3.5"/><circle class="n" cx="795" cy="230" r="3.5"/><circle class="n" cx="798" cy="308" r="3.5"/><circle class="n" cx="797" cy="325" r="4.5"/><circle class="ye" cx="785" cy="332" r="3.5"/><circle class="ye" cx="785" cy="347" r="3.5"/><circle class="n" cx="958" cy="318" r="3"/><circle class="n" cx="950" cy="333" r="3"/><circle class="n" cx="935" cy="360" r="3.5"/><circle class="n" cx="970" cy="230" r="3"/><circle class="n" cx="963" cy="247" r="3"/>
</g>
<g id="nodes-right">
<circle class="go" cx="1019" cy="185" r="3"/><circle class="or" cx="1007" cy="218" r="4"/><circle class="n" cx="965" cy="203" r="3"/><circle class="n" cx="986" cy="218" r="3"/><circle class="n" cx="971" cy="229" r="3"/><circle class="n" cx="1001" cy="235" r="3"/><circle class="n" cx="983" cy="248" r="3.5"/><circle class="lg" cx="943" cy="247" r="3"/><circle class="go" cx="962" cy="267" r="3"/>
<circle class="or" cx="1001" cy="418" r="3.5"/><circle class="n" cx="967" cy="432" r="4"/><circle class="n" cx="978" cy="460" r="3"/><circle class="n" cx="993" cy="463" r="3.5"/><circle class="go" cx="983" cy="481" r="3.5"/><circle class="n" cx="972" cy="488" r="3"/><circle class="n" cx="968" cy="528" r="3"/><circle class="n" cx="950" cy="532" r="3.5"/>
</g>
<g id="nodes-bottom">
<circle class="go" cx="798" cy="402" r="3.5"/><circle class="ye" cx="817" cy="402" r="3.5"/><circle class="pk" cx="748" cy="409" r="3.5"/><circle class="or" cx="760" cy="413" r="3.5"/><circle class="ye" cx="735" cy="407" r="3.5"/><circle class="n" cx="725" cy="408" r="3"/><circle class="n" cx="770" cy="410" r="3"/><circle class="n" cx="834" cy="403" r="3"/><circle class="n" cx="878" cy="407" r="3.5"/><circle class="n" cx="893" cy="410" r="3"/><circle class="n" cx="905" cy="402" r="3.5"/><circle class="dk" cx="923" cy="402" r="3"/><circle class="n" cx="916" cy="407" r="3"/><circle class="n" cx="938" cy="413" r="3"/><circle class="n" cx="955" cy="407" r="3.5"/><circle class="gr" cx="918" cy="433" r="4"/><circle class="go" cx="798" cy="443" r="3.5"/><circle class="n" cx="827" cy="420" r="3"/><circle class="n" cx="868" cy="418" r="4"/><circle class="n" cx="853" cy="433" r="3"/><circle class="n" cx="887" cy="435" r="3.5"/><circle class="n" cx="900" cy="422" r="3.5"/><circle class="ye" cx="825" cy="455" r="3.5"/><circle class="n" cx="907" cy="443" r="3.5"/><circle class="n" cx="922" cy="453" r="3"/><circle class="dk" cx="732" cy="450" r="2.5"/><circle class="n" cx="857" cy="462" r="3"/><circle class="bl" cx="865" cy="465" r="3" style="fill:#fff;stroke:#8ab0e0"/><circle class="or" cx="872" cy="470" r="3.5"/><circle class="n" cx="925" cy="473" r="3"/><circle class="n" cx="940" cy="473" r="3"/><circle class="n" cx="913" cy="482" r="3.5"/><circle class="go" cx="783" cy="479" r="3.5"/><circle class="n" cx="833" cy="485" r="3"/><circle class="n" cx="837" cy="501" r="3"/><circle class="n" cx="882" cy="500" r="3"/><circle class="n" cx="923" cy="504" r="3"/><circle class="n" cx="945" cy="503" r="3"/><circle class="n" cx="787" cy="519" r="3"/><circle class="n" cx="805" cy="516" r="3"/><circle class="n" cx="820" cy="520" r="3"/><circle class="go" cx="853" cy="520" r="3.5"/><circle class="n" cx="870" cy="522" r="3"/><circle class="n" cx="886" cy="526" r="3.5"/><circle class="n" cx="913" cy="525" r="3"/><circle class="n" cx="935" cy="522" r="3"/><circle class="n" cx="747" cy="528" r="3"/><circle class="n" cx="760" cy="528" r="3"/><circle class="n" cx="775" cy="531" r="3"/><circle class="n" cx="825" cy="535" r="3.5"/><circle class="n" cx="760" cy="545" r="3"/><circle class="n" cx="790" cy="548" r="3"/><circle class="n" cx="840" cy="548" r="3"/>
<circle class="pk" cx="600" cy="398" r="3"/><circle class="n" cx="612" cy="405" r="3"/><circle class="go" cx="635" cy="408" r="3.5"/><circle class="pk" cx="647" cy="403" r="3"/><circle class="n" cx="653" cy="393" r="3"/><circle class="pk" cx="678" cy="403" r="4"/><circle class="n" cx="710" cy="390" r="3"/><circle class="n" cx="727" cy="409" r="3"/><circle class="ye" cx="737" cy="407" r="3.5"/><circle class="pk" cx="749" cy="409" r="3"/><circle class="n" cx="769" cy="409" r="3"/><circle class="go" cx="780" cy="388" r="3.5"/><circle class="n" cx="487" cy="427" r="3.5"/><circle class="n" cx="498" cy="427" r="3"/><circle class="n" cx="507" cy="430" r="3"/><circle class="n" cx="533" cy="422" r="3"/><circle class="n" cx="578" cy="430" r="3"/><circle class="n" cx="618" cy="427" r="3"/><circle class="n" cx="558" cy="440" r="3"/><circle class="n" cx="597" cy="445" r="3"/><circle class="n" cx="612" cy="465" r="3"/><circle class="n" cx="598" cy="467" r="3"/><circle class="go" cx="620" cy="472" r="3.5"/><circle class="n" cx="630" cy="478" r="3"/><circle class="go" cx="642" cy="475" r="3.5"/><circle class="n" cx="692" cy="470" r="6"/><circle class="gr" cx="711" cy="467" r="3.5" style="fill:#8fca7e"/><circle class="n" cx="715" cy="490" r="3"/><circle class="n" cx="677" cy="495" r="3"/><circle class="go" cx="600" cy="490" r="3.5"/>
<circle class="n" cx="582" cy="493" r="3"/><circle class="go" cx="600" cy="492" r="3.5"/><circle class="pk" cx="538" cy="515" r="3"/><circle class="go" cx="556" cy="522" r="3.5"/><circle class="n" cx="580" cy="523" r="3.5"/><circle class="go" cx="600" cy="517" r="3.5"/><circle class="ye" cx="620" cy="517" r="3.5"/><circle class="go" cx="562" cy="533" r="3.5"/><circle class="go" cx="597" cy="535" r="3.5"/><circle class="gr" cx="615" cy="532" r="3"/><circle class="n" cx="580" cy="543" r="3.5"/><circle class="n" cx="568" cy="552" r="3"/><circle class="n" cx="603" cy="552" r="3"/><circle class="ye" cx="630" cy="555" r="3"/><circle class="go" cx="555" cy="560" r="4"/><circle class="n" cx="543" cy="568" r="3"/><circle class="dk" cx="580" cy="577" r="3"/><circle class="n" cx="612" cy="578" r="3"/><circle class="n" cx="522" cy="582" r="3"/><circle class="n" cx="642" cy="517" r="3"/><circle class="n" cx="643" cy="507" r="3"/><circle class="n" cx="677" cy="497" r="3"/>
</g>
<g id="ellipse-foodprep"><ellipse cx="531" cy="313" rx="37" ry="20" transform="rotate(-25 531 313)" fill="none" stroke="#ec1c24" stroke-width="3.5"/></g>
<g id="ellipse-apparel"><ellipse cx="875" cy="310" rx="69" ry="61" fill="none" stroke="#ec1c24" stroke-width="4"/></g>
<g id="arrows">
<line class="ra" x1="575" y1="250" x2="626.2" y2="294.7" marker-end="url(#rh)"/>
<line class="ra" x1="697" y1="250" x2="721.3" y2="317.3" marker-end="url(#rh)"/>
<line class="ra" x1="437" y1="330" x2="491" y2="323.6" marker-end="url(#rh)"/>
<line class="ra" x1="418" y1="397" x2="510.5" y2="352.2" marker-end="url(#rh)"/>
<line class="ra" x1="540" y1="440" x2="583.7" y2="356.4" marker-end="url(#rh)"/>
<line class="ra" x1="656" y1="425" x2="656" y2="372" marker-end="url(#rh)"/>
<line class="ra" x1="712" y1="411" x2="677.6" y2="354.3" marker-end="url(#rh)"/>
<line class="ra" x1="1050" y1="443" x2="947.8" y2="353.3" marker-end="url(#rh)"/>
<line class="ba" x1="832" y1="96" x2="729.6" y2="44.8" marker-end="url(#bh)"/>
<line class="ba" x1="1078" y1="178" x2="1027.9" y2="187.3" marker-end="url(#bh)"/>
<line class="ba" x1="1027" y1="256" x2="965.7" y2="280.5" marker-end="url(#bh)"/>
<line class="ba" x1="787" y1="478" x2="797.4" y2="414" marker-end="url(#bh)"/>
<line class="ba" x1="1040" y1="506" x2="998.7" y2="488.6" marker-end="url(#bh)"/>
<line class="ba" x1="484" y1="570" x2="542.1" y2="559.7" marker-end="url(#bh)"/>
</g>
<g id="labels">
<text class="rl" x="505" y="223" textLength="78" lengthAdjust="spacingAndGlyphs">Cleaning</text>
<text class="rl" x="505" y="243" textLength="79" lengthAdjust="spacingAndGlyphs">Products</text>
<text class="rl" x="663" y="223" textLength="48" lengthAdjust="spacingAndGlyphs">Glass</text>
<text class="rl" x="656" y="243" textLength="62" lengthAdjust="spacingAndGlyphs">Bottles</text>
<text class="rl" x="341" y="332" textLength="91" lengthAdjust="spacingAndGlyphs">Food Prep</text>
<text class="rl" x="339" y="352" textLength="95" lengthAdjust="spacingAndGlyphs">Machinery</text>
<text class="rl" x="332" y="406" textLength="83" lengthAdjust="spacingAndGlyphs">Packaged</text>
<text class="rl" x="313" y="426" textLength="122" lengthAdjust="spacingAndGlyphs">Medicaments</text>
<text class="rl" x="502" y="463" textLength="73" lengthAdjust="spacingAndGlyphs">Polishes</text>
<text class="rl" x="494" y="483" textLength="86" lengthAdjust="spacingAndGlyphs">&amp; Creams</text>
<text class="rl" x="637" y="447" textLength="39" lengthAdjust="spacingAndGlyphs">Milk</text>
<text class="rl" x="692" y="438" textLength="65" lengthAdjust="spacingAndGlyphs">Trailers</text>
<text class="rl" x="1048" y="461" textLength="72" lengthAdjust="spacingAndGlyphs">Apparel</text>
<text class="rl" x="1054" y="480" textLength="61" lengthAdjust="spacingAndGlyphs">Cluster</text>
<text class="bll" x="836" y="96" textLength="68" lengthAdjust="spacingAndGlyphs">Refined</text>
<text class="bll" x="836" y="115" textLength="93" lengthAdjust="spacingAndGlyphs">Petroleum</text>
<text class="bll" x="1085" y="178" textLength="31" lengthAdjust="spacingAndGlyphs">Cut</text>
<text class="bll" x="1085" y="198" textLength="70" lengthAdjust="spacingAndGlyphs">Flowers</text>
<text class="bll" x="1032" y="257" textLength="144" lengthAdjust="spacingAndGlyphs">Leather &amp; Hides</text>
<text class="bll" x="747" y="498" textLength="79" lengthAdjust="spacingAndGlyphs">Legumes</text>
<text class="bll" x="1043" y="520" textLength="30" lengthAdjust="spacingAndGlyphs">Tea</text>
<text class="bll" x="425" y="575" textLength="61" lengthAdjust="spacingAndGlyphs">Coffee</text>
</g>
<g id="captions">
<text class="bt" x="683" y="20" textLength="127" lengthAdjust="spacingAndGlyphs">specialization.</text>
<text class="bt" x="-1" y="557" textLength="379" lengthAdjust="spacingAndGlyphs">ome of Kenya’s less prominent exports are</text>
<text class="bt" x="-1" y="582" textLength="401" lengthAdjust="spacingAndGlyphs">ocated more centrally <tspan fill="#c0001a">(red)</tspan>. Due to their high</text>
<text class="bt" x="706" y="581" textLength="430" lengthAdjust="spacingAndGlyphs">The <tspan fill="#c0001a">apparel cluster</tspan> is Kenya’s only major export</text>
</g>
</svg>
